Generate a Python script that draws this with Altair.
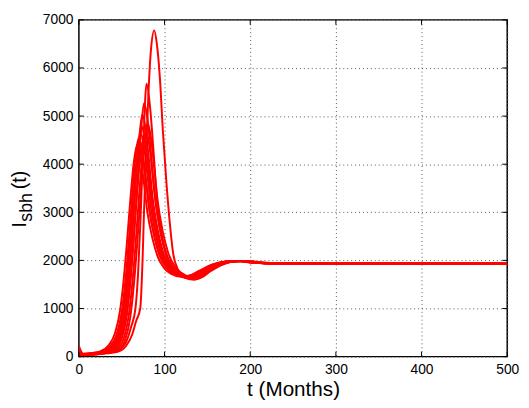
import altair as alt
import pandas as pd

# ---- data (t in months, I_sbh values) ----
TA = [0, 5, 15, 25, 35, 42, 48, 52, 56, 60, 64, 68, 72, 76, 80, 86, 92, 100, 108, 118, 128, 140, 155, 170, 185, 200, 230, 300, 500]
VA = [220, 60, 75, 110, 240, 480, 950, 1550, 2350, 3250, 4020, 4400, 4150, 3600, 3000, 2450, 2080, 1830, 1720, 1665, 1680, 1780, 1910, 1975, 1985, 1955, 1935, 1930, 1930]

TB = [0, 5, 15, 25, 37, 44, 50, 54, 58, 62, 66, 70, 74, 78, 82, 88, 94, 102, 110, 120, 130, 142, 157, 172, 187, 202, 230, 300, 500]
VB = [150, 55, 70, 100, 230, 460, 930, 1530, 2350, 3300, 4150, 4550, 4280, 3700, 3080, 2500, 2110, 1850, 1730, 1668, 1680, 1785, 1915, 1978, 1985, 1955, 1935, 1930, 1930]

TC = [0, 5, 15, 25, 38, 45, 51, 55, 59, 63, 67, 71, 75, 79, 83, 89, 95, 103, 111, 121, 131, 143, 158, 173, 188, 203, 230, 300, 500]
VC = [100, 50, 65, 95, 220, 440, 900, 1500, 2300, 3180, 3960, 4350, 4100, 3550, 2980, 2440, 2080, 1840, 1725, 1668, 1682, 1786, 1915, 1978, 1985, 1955, 1935, 1930, 1930]

TD = [0, 5, 15, 25, 39, 46, 52, 56, 60, 64, 68, 72, 76, 80, 84, 90, 96, 104, 112, 122, 132, 144, 159, 174, 189, 204, 230, 300, 500]
VD = [60, 45, 60, 90, 210, 430, 900, 1520, 2350, 3300, 4180, 4650, 4370, 3780, 3120, 2520, 2120, 1855, 1735, 1670, 1682, 1788, 1918, 1980, 1986, 1956, 1935, 1930, 1930]

TE = [0, 5, 15, 25, 40, 47, 53, 57, 61, 65, 69, 73, 77, 81, 85, 91, 97, 105, 113, 123, 133, 145, 160, 175, 190, 205, 230, 300, 500]
VE = [0, 40, 55, 85, 200, 420, 890, 1530, 2380, 3380, 4280, 4800, 4500, 3880, 3200, 2570, 2150, 1870, 1740, 1670, 1680, 1788, 1918, 1980, 1986, 1956, 1935, 1930, 1930]

TG = [0, 5, 15, 25, 41, 48, 54, 58, 62, 66, 70, 74, 78, 82, 86, 92, 98, 106, 114, 124, 134, 146, 161, 176, 191, 206, 230, 300, 500]
VG = [30, 45, 60, 85, 200, 420, 900, 1560, 2450, 3500, 4450, 5030, 4720, 4050, 3320, 2640, 2190, 1890, 1745, 1668, 1676, 1785, 1915, 1979, 1986, 1956, 1935, 1930, 1930]

TF = [0, 5, 15, 25, 42, 49, 55, 59, 63, 67, 71, 75, 79, 83, 87, 93, 99, 107, 115, 125, 135, 147, 162, 177, 192, 207, 230, 300, 500]
VF = [0, 35, 50, 75, 180, 390, 860, 1460, 2260, 3180, 4030, 4500, 4250, 3650, 3050, 2480, 2100, 1850, 1730, 1666, 1678, 1785, 1915, 1978, 1985, 1955, 1935, 1930, 1930]

TH = [0, 5, 15, 25, 43, 50, 56, 60, 64, 68, 72, 76, 80, 84, 88, 94, 100, 108, 116, 126, 136, 148, 163, 178, 193, 208, 230, 300, 500]
VH = [0, 30, 50, 70, 170, 380, 860, 1520, 2420, 3520, 4560, 5266, 4950, 4250, 3450, 2700, 2230, 1900, 1745, 1662, 1668, 1780, 1912, 1978, 1986, 1958, 1936, 1930, 1930]

TI = [0, 5, 15, 25, 45, 52, 58, 62, 66, 70, 74, 78, 82, 86, 90, 96, 102, 110, 118, 128, 138, 150, 165, 180, 195, 210, 230, 300, 500]
VI = [0, 30, 45, 65, 160, 360, 830, 1450, 2300, 3280, 4180, 4700, 4420, 3800, 3150, 2540, 2140, 1860, 1735, 1660, 1670, 1782, 1914, 1979, 1986, 1958, 1936, 1930, 1930]

TJ = [0, 5, 15, 25, 47, 54, 60, 64, 68, 72, 76, 80, 84, 88, 92, 98, 104, 112, 120, 130, 140, 152, 167, 182, 197, 212, 230, 300, 500]
VJ = [0, 25, 40, 60, 150, 350, 820, 1460, 2330, 3350, 4300, 4850, 4560, 3920, 3230, 2590, 2170, 1870, 1735, 1655, 1665, 1780, 1912, 1980, 1988, 1960, 1937, 1930, 1930]

TK = [0, 5, 15, 25, 45, 55, 61, 66, 69, 72, 75, 79, 83, 87, 91, 97, 104, 112, 120, 130, 140, 152, 165, 180, 195, 210, 230, 300, 500]
VK = [0, 30, 45, 60, 120, 300, 620, 1000, 1700, 2900, 4300, 5675, 5200, 4300, 3300, 2500, 2000, 1760, 1660, 1625, 1650, 1760, 1890, 1975, 1990, 1960, 1935, 1930, 1930]

TL = [0, 5, 15, 25, 45, 55, 62, 67, 71.6, 74.3, 76, 78, 81, 84, 88, 91, 94.6, 98, 102, 106, 110, 116, 124, 135, 145, 155, 165, 175, 185, 200, 220, 250, 300, 500]
VL = [0, 25, 40, 55, 100, 220, 450, 750, 1000, 2000, 3000, 4000, 5400, 6350, 6780, 6500, 5780, 4700, 3660, 2800, 2150, 1800, 1640, 1600, 1660, 1800, 1920, 1975, 1990, 1965, 1940, 1930, 1930, 1930]

curves = {"A": (TA, VA), "B": (TB, VB), "C": (TC, VC), "D": (TD, VD),
          "E": (TE, VE), "G": (TG, VG), "F": (TF, VF), "H": (TH, VH),
          "I": (TI, VI), "J": (TJ, VJ), "K": (TK, VK), "L": (TL, VL)}

x_ticks = [0, 100, 200, 300, 400, 500]
y_ticks = [0, 1000, 2000, 3000, 4000, 5000, 6000, 7000]

rows = []
for name, (ts, vs) in curves.items():
    for t, v in zip(ts, vs):
        rows.append({"curve": name, "t": t, "v": v})
df = pd.DataFrame(rows)

W, H = 435, 342
FONT = "Liberation Sans"
xs = alt.Scale(domain=[0, 500], nice=False, zero=False)
ys = alt.Scale(domain=[0, 7000], nice=False, zero=False)
XT = "t (Months)"
YT = " "

lines = alt.Chart(df).mark_line(color="#ff0000", strokeWidth=2, interpolate="monotone", clip=True).encode(
    x=alt.X("t:Q", scale=xs, title=XT,
            axis=alt.Axis(values=x_ticks, format="d", grid=True, gridDash=[1, 3], gridColor="#555555",
                          gridWidth=1, ticks=False, domain=False, labelFlush=False,
                          labelFont=FONT, labelFontSize=14, labelColor="black", labelPadding=6,
                          titleFont=FONT, titleFontSize=21, titleFontWeight="normal",
                          titleColor="black", titlePadding=2)),
    y=alt.Y("v:Q", scale=ys, title=YT,
            axis=alt.Axis(values=y_ticks, format="d", grid=True, gridDash=[1, 3], gridColor="#555555",
                          gridWidth=1, ticks=False, domain=False,
                          labelFont=FONT, labelFontSize=14, labelColor="black", labelPadding=6)),
    detail="curve:N",
)

xt = pd.DataFrame({"t": x_ticks})
yt = pd.DataFrame({"v": y_ticks})
tick_bottom = alt.Chart(xt).mark_rule(color="black", strokeWidth=1).encode(
    x=alt.X("t:Q", scale=xs, title=XT), y=alt.value(H), y2=alt.value(H - 5))
tick_top = alt.Chart(xt).mark_rule(color="black", strokeWidth=1).encode(
    x=alt.X("t:Q", scale=xs, title=XT), y=alt.value(0), y2=alt.value(5))
tick_left = alt.Chart(yt).mark_rule(color="black", strokeWidth=1).encode(
    y=alt.Y("v:Q", scale=ys, title=YT), x=alt.value(0), x2=alt.value(5))
tick_right = alt.Chart(yt).mark_rule(color="black", strokeWidth=1).encode(
    y=alt.Y("v:Q", scale=ys, title=YT), x=alt.value(W - 5), x2=alt.value(W))

one = pd.DataFrame({"a": [0]})
def ylabel(txt, x, y, size):
    return alt.Chart(one).mark_text(angle=270, align="left", baseline="alphabetic",
                                    font=FONT, fontSize=size, color="black").encode(
        x=alt.value(x), y=alt.value(y), text=alt.value(txt))

lab_I = ylabel("I", -54, 211, 21)
lab_s = ylabel("sbh", -48, 205, 18)
lab_t = ylabel("(t)", -54, 172, 20)

chart = alt.layer(lines, tick_bottom, tick_top, tick_left, tick_right, lab_I, lab_s, lab_t).properties(
    width=W, height=H,
    autosize=alt.AutoSizeParams(type="none"),
    padding={"left": 72, "top": 9, "right": 14, "bottom": 41},
).configure_view(stroke="black", strokeWidth=1.5)

chart.save("out.html", embed_options={"renderer": "svg", "actions": False})
